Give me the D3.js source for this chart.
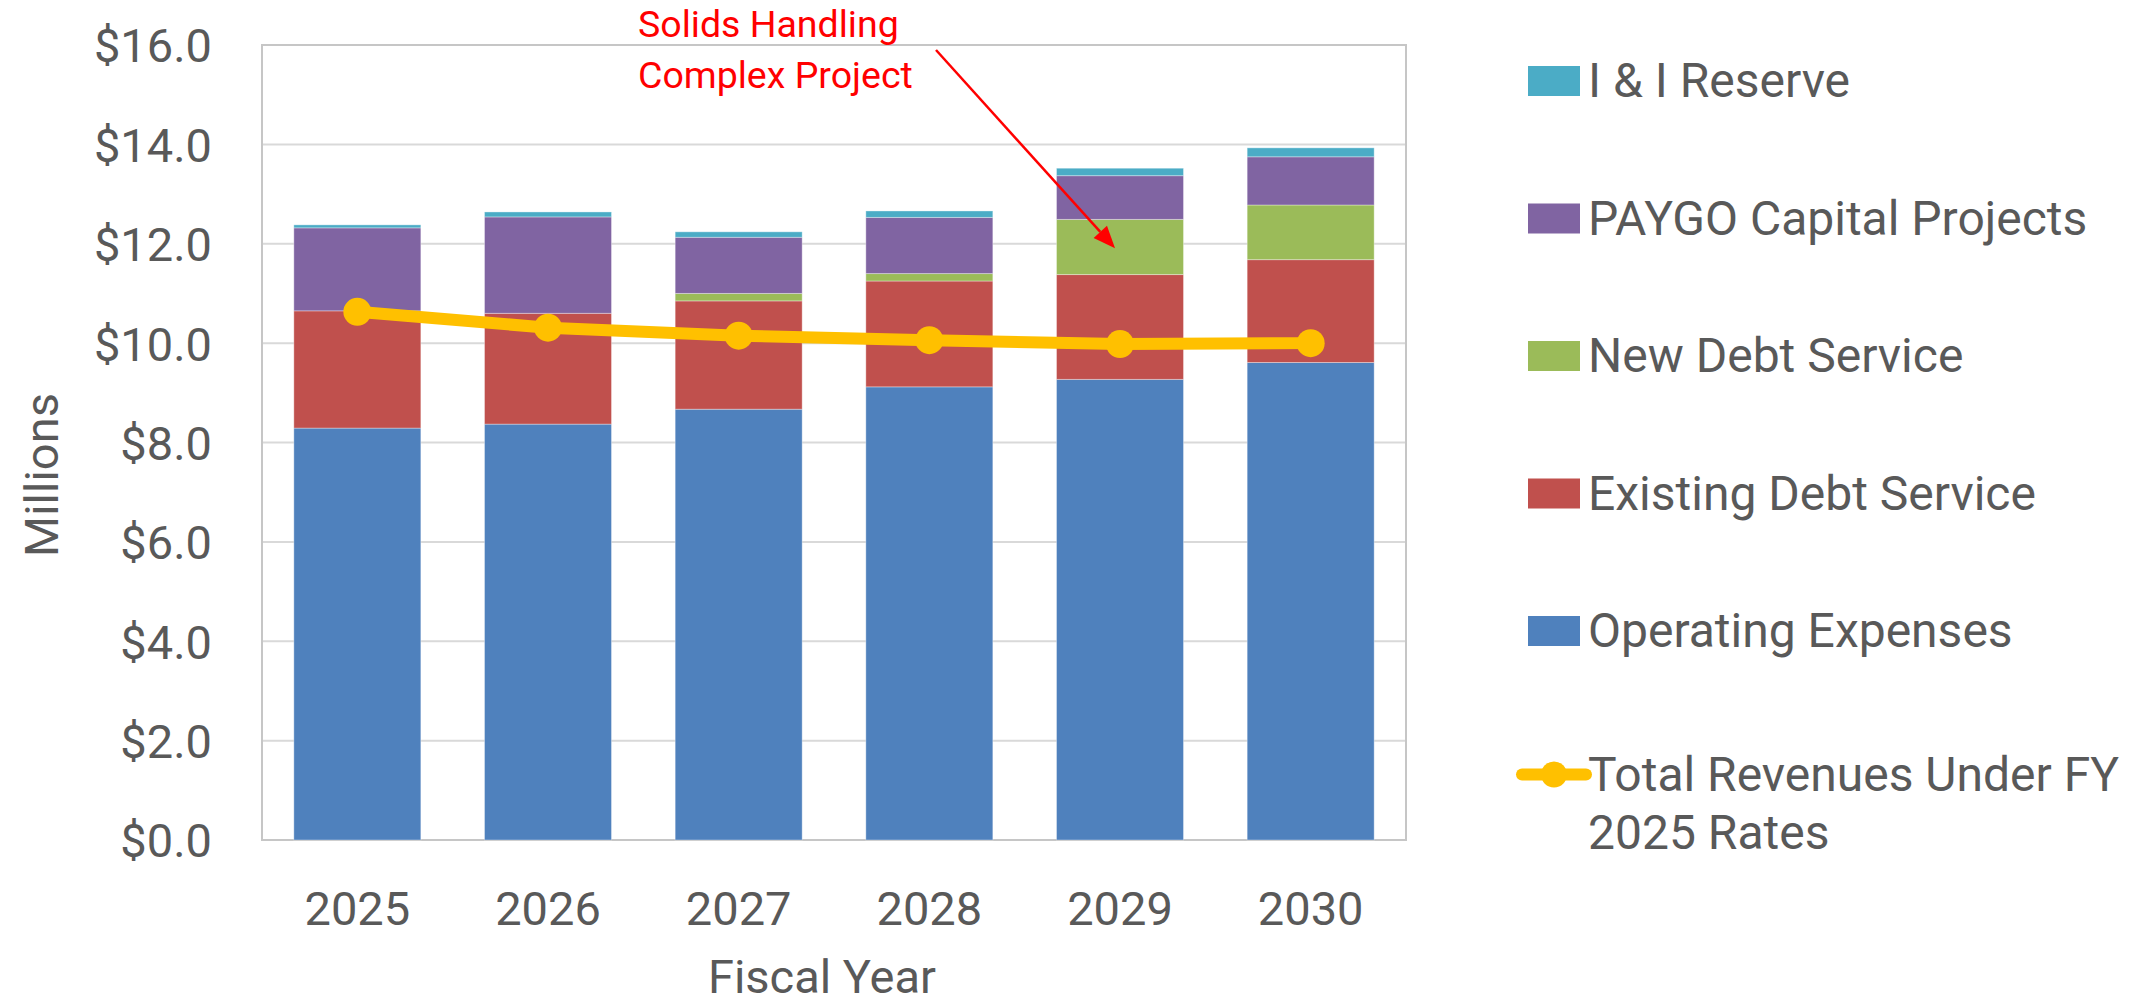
<!DOCTYPE html>
<html>
<head>
<meta charset="utf-8">
<script src="https://cdn.jsdelivr.net/npm/d3@7"></script>
<style>
  html, body { margin: 0; padding: 0; background: #ffffff; }
  svg { display: block; }
  text { font-family: Roboto, "Open Sans", sans-serif; }
</style>
</head>
<body>
<svg id="chart" width="2148" height="1003"></svg>
<script>
// ---------------- data ----------------
const years = ["2025", "2026", "2027", "2028", "2029", "2030"];
const operatingExpenses = [8.29, 8.37, 8.67, 9.12, 9.27, 9.61];
const existingDebtService = [2.36, 2.23, 2.18, 2.13, 2.11, 2.07];
const newDebtService = [0.00, 0.00, 0.15, 0.15, 1.11, 1.10];
const paygoCapital = [1.67, 1.94, 1.13, 1.13, 0.88, 0.97];
const iiReserve = [0.06, 0.10, 0.11, 0.13, 0.15, 0.18];
const totalRevenues = [10.63, 10.31, 10.15, 10.06, 9.98, 10.00];
const yTickValues = [0, 2, 4, 6, 8, 10, 12, 14, 16];
const seriesNames = ["Operating Expenses", "Existing Debt Service", "New Debt Service", "PAYGO Capital Projects", "I & I Reserve"];
const lineName = ["Total Revenues Under FY", "2025 Rates"];
const annotationLines = ["Solids Handling", "Complex Project"];
const xTitle = "Fiscal Year";
const yTitle = "Millions";

// ---------------- layout ----------------
const W = 2148, H = 1003;
const plot = { left: 262, right: 1406, top: 45, bottom: 840 };
const colors = {
  "Operating Expenses": "#4F81BD",
  "Existing Debt Service": "#C0504D",
  "New Debt Service": "#9BBB59",
  "PAYGO Capital Projects": "#8064A2",
  "I & I Reserve": "#4BACC6"
};
const lineColor = "#FFC000";
const textColor = "#595959";

const svg = d3.select("#chart");

const rows = years.map((y, i) => ({
  year: y,
  "Operating Expenses": operatingExpenses[i],
  "Existing Debt Service": existingDebtService[i],
  "New Debt Service": newDebtService[i],
  "PAYGO Capital Projects": paygoCapital[i],
  "I & I Reserve": iiReserve[i]
}));

const x = d3.scaleBand().domain(years).range([plot.left, plot.right]).paddingInner(0.334).paddingOuter(0.167);
const xPos = d3.scaleLinear().domain([0, years.length]).range([plot.left, plot.right]);
const y = d3.scaleLinear().domain([0, 16]).range([plot.bottom, plot.top]);

// gridlines
svg.append("g").selectAll("line").data(yTickValues.filter(v => v > 0 && v < 16)).join("line")
  .attr("x1", plot.left).attr("x2", plot.right)
  .attr("y1", d => y(d)).attr("y2", d => y(d))
  .attr("stroke", "#D9D9D9").attr("stroke-width", 2);

// plot border
svg.append("rect")
  .attr("x", plot.left).attr("y", plot.top)
  .attr("width", plot.right - plot.left).attr("height", plot.bottom - plot.top)
  .attr("fill", "none").attr("stroke", "#C6C6C6").attr("stroke-width", 2);

// stacked bars
const stack = d3.stack().keys(seriesNames);
const stacked = stack(rows);
svg.append("g").selectAll("g").data(stacked).join("g")
  .attr("fill", d => colors[d.key])
  .selectAll("rect").data(d => d.filter(s => s[1] - s[0] > 0)).join("rect")
  .attr("x", d => x(d.data.year))
  .attr("width", x.bandwidth())
  .attr("y", d => y(d[1]))
  .attr("height", d => y(d[0]) - y(d[1]))
  .attr("stroke", "#ffffff").attr("stroke-opacity", 0.35).attr("stroke-width", 1);

// revenue line
const linePts = years.map((yr, i) => [x(yr) + x.bandwidth() / 2, y(totalRevenues[i])]);
svg.append("path")
  .attr("d", d3.line()(linePts))
  .attr("fill", "none").attr("stroke", lineColor).attr("stroke-width", 12)
  .attr("stroke-linejoin", "round");
svg.append("g").selectAll("circle").data(linePts).join("circle")
  .attr("cx", d => d[0]).attr("cy", d => d[1]).attr("r", 14)
  .attr("fill", lineColor);

// y axis labels
const yAxis = d3.axisLeft(y).tickValues(yTickValues).tickSize(0).tickPadding(50)
  .tickFormat(d => "$" + d.toFixed(1));
const gy = svg.append("g").attr("transform", `translate(${plot.left},0)`).call(yAxis);
gy.select(".domain").remove();
gy.selectAll("text").attr("font-size", 47).attr("fill", textColor)
  .attr("font-family", "Roboto, sans-serif").attr("dy", "0.36em");

// x axis labels
const xAxis = d3.axisBottom(x).tickSize(0).tickPadding(52);
const gx = svg.append("g").attr("transform", `translate(0,${plot.bottom})`).call(xAxis);
gx.select(".domain").remove();
gx.selectAll("text").attr("font-size", 47).attr("fill", textColor)
  .attr("font-family", "Roboto, sans-serif").attr("dy", "0.71em");

// axis titles
svg.append("text").text(xTitle)
  .attr("x", 822).attr("y", 993)
  .attr("text-anchor", "middle").attr("font-size", 47).attr("fill", textColor);
svg.append("text").text(yTitle)
  .attr("transform", "translate(58,475) rotate(-90)")
  .attr("text-anchor", "middle").attr("font-size", 47).attr("fill", textColor);

// annotation
const ann = { from: [3.535, 15.9], to: [4.474, 11.91] };
const ax1 = xPos(ann.from[0]), ay1 = y(ann.from[1]);
const ax2 = xPos(ann.to[0]), ay2 = y(ann.to[1]);
const ang = Math.atan2(ay2 - ay1, ax2 - ax1);
const headLen = 22, headW = 9;
const bx = ax2 - headLen * Math.cos(ang), by = ay2 - headLen * Math.sin(ang);
svg.append("line")
  .attr("x1", ax1).attr("y1", ay1).attr("x2", bx).attr("y2", by)
  .attr("stroke", "#FF0000").attr("stroke-width", 2.5);
svg.append("path")
  .attr("d", `M${ax2},${ay2} L${bx + headW * Math.sin(ang)},${by - headW * Math.cos(ang)} L${bx - headW * Math.sin(ang)},${by + headW * Math.cos(ang)} Z`)
  .attr("fill", "#FF0000");
svg.append("g").selectAll("text").data(annotationLines).join("text")
  .text(d => d)
  .attr("x", 638).attr("y", (d, i) => 37 + i * 51)
  .attr("font-size", 37.5).attr("fill", "#FF0000");

// legend
const legendX = 1528, legendTop = 81, legendStep = 137.5;
const legendItems = seriesNames.slice().reverse();
const lg = svg.append("g");
legendItems.forEach((name, i) => {
  const cy = legendTop + i * legendStep;
  lg.append("rect").attr("x", legendX).attr("y", cy - 15).attr("width", 52).attr("height", 30)
    .attr("fill", colors[name]);
  lg.append("text").text(name).attr("x", legendX + 60).attr("y", cy + 16)
    .attr("font-size", 48).attr("fill", textColor);
});
const lcy = legendTop + 5 * legendStep + 6;
lg.append("line").attr("x1", legendX - 6).attr("x2", legendX + 58)
  .attr("y1", lcy).attr("y2", lcy)
  .attr("stroke", lineColor).attr("stroke-width", 12).attr("stroke-linecap", "round");
lg.append("circle").attr("cx", legendX + 26).attr("cy", lcy).attr("r", 13).attr("fill", lineColor);
lineName.forEach((t, i) => {
  lg.append("text").text(t).attr("x", legendX + 60).attr("y", lcy + 16 + i * 58)
    .attr("font-size", 48).attr("fill", textColor);
});
</script>
</body>
</html>
